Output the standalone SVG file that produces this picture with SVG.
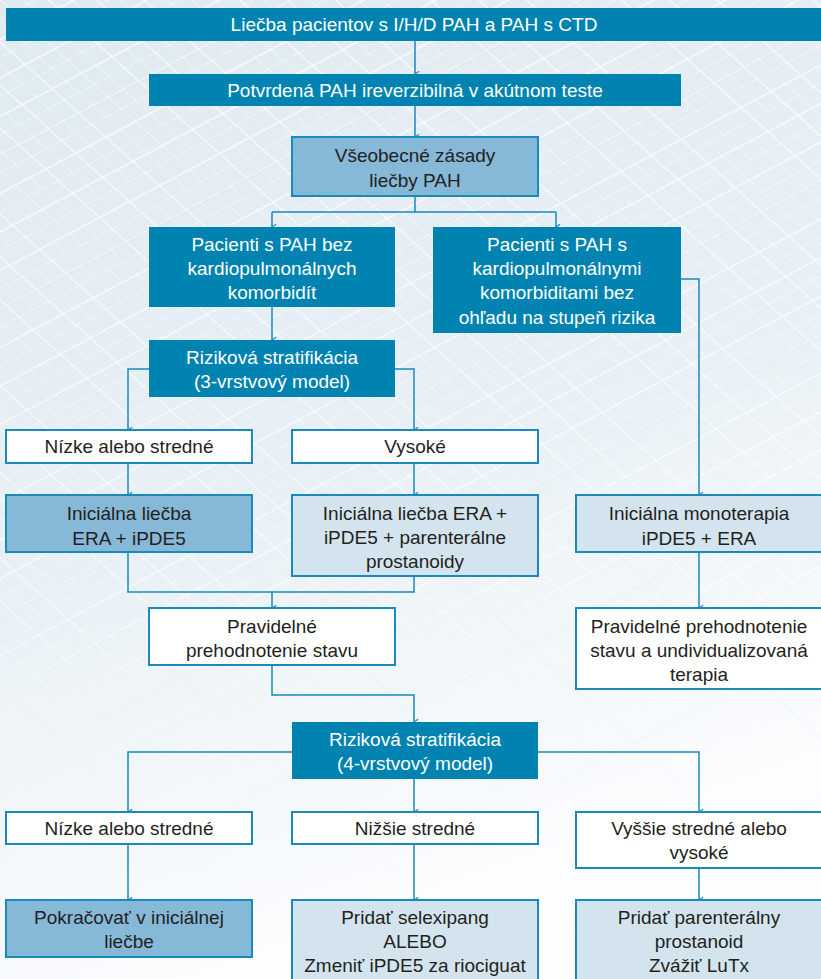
<svg xmlns="http://www.w3.org/2000/svg" width="821" height="979" viewBox="0 0 821 979">
  <defs>
    <linearGradient id="bgGrad" x1="0" y1="0" x2="0.3" y2="1">
      <stop offset="0" stop-color="#dfeaf1"/>
      <stop offset="0.55" stop-color="#e8f0f5"/>
      <stop offset="0.8" stop-color="#f3f7fa"/>
      <stop offset="1" stop-color="#fbfdfe"/>
    </linearGradient>
    <pattern id="grid" width="34" height="34" patternUnits="userSpaceOnUse" patternTransform="rotate(-28) skewX(20)">
      <path d="M0 0H34M0 0V34" fill="none" stroke="#ffffff" stroke-width="3" opacity="0.75"/>
      <path d="M0 17H34M17 0V34" fill="none" stroke="#ffffff" stroke-width="1" opacity="0.5"/>
    </pattern>
    <pattern id="gridMajor" width="136" height="136" patternUnits="userSpaceOnUse" patternTransform="rotate(-28) skewX(20)">
      <path d="M0 0H136M0 0V136" fill="none" stroke="#c6d6e2" stroke-width="4" opacity="0.6"/>
    </pattern>
    <linearGradient id="fadeMask" x1="0" y1="0" x2="0" y2="1">
      <stop offset="0" stop-color="#fff" stop-opacity="1"/>
      <stop offset="0.6" stop-color="#fff" stop-opacity="0.8"/>
      <stop offset="0.85" stop-color="#fff" stop-opacity="0.1"/>
      <stop offset="1" stop-color="#fff" stop-opacity="0"/>
    </linearGradient>
    <mask id="fade">
      <rect width="821" height="979" fill="url(#fadeMask)"/>
    </mask>
    <marker id="arr" viewBox="0 0 10 8" refX="5" refY="7" markerWidth="7" markerHeight="5.6" markerUnits="userSpaceOnUse" orient="auto-start-reverse">
      <path d="M1 1 L5 7 L9 1" fill="none" stroke="#1a89bb" stroke-width="1.6"/>
    </marker>
    <style>
      .dark { fill: #0083b1; }
      .mid { fill: #86b8d8; stroke: #1a89bb; stroke-width: 2; }
      .light { fill: #d4e4ef; stroke: #1a89bb; stroke-width: 2; }
      .white { fill: #ffffff; stroke: #1a89bb; stroke-width: 2; }
      text { font-family: "Liberation Sans", Arial, sans-serif; font-size: 19px; text-anchor: middle; }
      .tw { fill: #ffffff; }
      .tk { fill: #231f20; }
      .conn { fill: none; stroke: #1a89bb; stroke-width: 1.5; }
    </style>
  </defs>

  <!-- background paper -->
  <rect width="821" height="979" fill="url(#bgGrad)"/>
  <g mask="url(#fade)">
    <rect width="821" height="979" fill="url(#gridMajor)"/>
    <rect width="821" height="979" fill="url(#grid)"/>
  </g>

  <!-- connectors -->
  <g id="connectors" class="conn">
    <path d="M415 41V74" marker-end="url(#arr)"/>
    <path d="M415 106V137" marker-end="url(#arr)"/>
    <path d="M415 196V212"/>
    <path d="M272 212H556"/>
    <path d="M272 212V227" marker-end="url(#arr)"/>
    <path d="M556 212V227" marker-end="url(#arr)"/>
    <path d="M272 307V340" marker-end="url(#arr)"/>
    <path d="M681 279H699V495" marker-end="url(#arr)"/>
    <path d="M149 369H128V430" marker-end="url(#arr)"/>
    <path d="M395 369H414V430" marker-end="url(#arr)"/>
    <path d="M128 463V495" marker-end="url(#arr)"/>
    <path d="M414 463V495" marker-end="url(#arr)"/>
    <path d="M128 552V592H414V576"/>
    <path d="M272 592V608" marker-end="url(#arr)"/>
    <path d="M699 552V608" marker-end="url(#arr)"/>
    <path d="M272 665V695H414V722" marker-end="url(#arr)"/>
    <path d="M292 752H128V812" marker-end="url(#arr)"/>
    <path d="M538 752H699V812" marker-end="url(#arr)"/>
    <path d="M414 779V812" marker-end="url(#arr)"/>
    <path d="M128 844V900" marker-end="url(#arr)"/>
    <path d="M414 844V900" marker-end="url(#arr)"/>
    <path d="M699 868V900" marker-end="url(#arr)"/>
  </g>

  <g id="n-liecba">
    <rect class="dark" x="6" y="8" width="815" height="33"/>
    <text class="tw" x="414" y="31">Liečba pacientov s I/H/D PAH a PAH s CTD</text>
  </g>
  <g id="n-potvrdena">
    <rect class="dark" x="149" y="74" width="532" height="32"/>
    <text class="tw" x="415" y="97">Potvrdená PAH ireverzibilná v akútnom teste</text>
  </g>
  <g id="n-zasady">
    <rect class="mid" x="292" y="137" width="246" height="59"/>
    <text class="tk" x="415" y="162">Všeobecné zásady</text>
    <text class="tk" x="415" y="187">liečby PAH</text>
  </g>
  <g id="n-bez">
    <rect class="dark" x="149" y="227" width="246" height="80"/>
    <text class="tw" x="272" y="251">Pacienti s PAH bez</text>
    <text class="tw" x="272" y="275">kardiopulmonálnych</text>
    <text class="tw" x="272" y="299">komorbidít</text>
  </g>
  <g id="n-s">
    <rect class="dark" x="433" y="227" width="248" height="106"/>
    <text class="tw" x="557" y="251">Pacienti s PAH s</text>
    <text class="tw" x="557" y="275">kardiopulmonálnymi</text>
    <text class="tw" x="557" y="299">komorbiditami bez</text>
    <text class="tw" x="557" y="324">ohľadu na stupeň rizika</text>
  </g>
  <g id="n-riziko3">
    <rect class="dark" x="149" y="340" width="246" height="57"/>
    <text class="tw" x="272" y="364">Riziková stratifikácia</text>
    <text class="tw" x="272" y="388">(3-vrstvový model)</text>
  </g>
  <g id="n-nizke3">
    <rect class="white" x="6" y="430" width="246" height="33"/>
    <text class="tk" x="129" y="453">Nízke alebo stredné</text>
  </g>
  <g id="n-vysoke3">
    <rect class="white" x="292" y="430" width="246" height="33"/>
    <text class="tk" x="415" y="453">Vysoké</text>
  </g>
  <g id="n-init-a">
    <rect class="mid" x="6" y="495" width="246" height="57"/>
    <text class="tk" x="129" y="520">Iniciálna liečba</text>
    <text class="tk" x="129" y="545">ERA + iPDE5</text>
  </g>
  <g id="n-init-b">
    <rect class="light" x="292" y="495" width="246" height="81"/>
    <text class="tk" x="415" y="520">Iniciálna liečba ERA +</text>
    <text class="tk" x="415" y="544">iPDE5 + parenterálne</text>
    <text class="tk" x="415" y="568">prostanoidy</text>
  </g>
  <g id="n-mono">
    <rect class="light" x="576" y="495" width="246" height="57"/>
    <text class="tk" x="699" y="520">Iniciálna monoterapia</text>
    <text class="tk" x="699" y="545">iPDE5 + ERA</text>
  </g>
  <g id="n-prehod">
    <rect class="white" x="149" y="608" width="246" height="57"/>
    <text class="tk" x="272" y="633">Pravidelné</text>
    <text class="tk" x="272" y="657">prehodnotenie stavu</text>
  </g>
  <g id="n-prehod-ind">
    <rect class="white" x="576" y="608" width="246" height="81"/>
    <text class="tk" x="699" y="633">Pravidelné prehodnotenie</text>
    <text class="tk" x="699" y="657">stavu a undividualizovaná</text>
    <text class="tk" x="699" y="681">terapia</text>
  </g>
  <g id="n-riziko4">
    <rect class="dark" x="292" y="722" width="246" height="57"/>
    <text class="tw" x="415" y="746">Riziková stratifikácia</text>
    <text class="tw" x="415" y="770">(4-vrstvový model)</text>
  </g>
  <g id="n-nizke4">
    <rect class="white" x="6" y="812" width="246" height="32"/>
    <text class="tk" x="129" y="835">Nízke alebo stredné</text>
  </g>
  <g id="n-nizsie">
    <rect class="white" x="292" y="812" width="246" height="32"/>
    <text class="tk" x="415" y="835">Nižšie stredné</text>
  </g>
  <g id="n-vyssie">
    <rect class="white" x="576" y="812" width="246" height="56"/>
    <text class="tk" x="699" y="835">Vyššie stredné alebo</text>
    <text class="tk" x="699" y="859">vysoké</text>
  </g>
  <g id="n-pokracovat">
    <rect class="mid" x="6" y="900" width="246" height="57"/>
    <text class="tk" x="129" y="924">Pokračovať v iniciálnej</text>
    <text class="tk" x="129" y="948">liečbe</text>
  </g>
  <g id="n-selexipag">
    <rect class="light" x="292" y="900" width="246" height="90"/>
    <text class="tk" x="415" y="924">Pridať selexipang</text>
    <text class="tk" x="415" y="948">ALEBO</text>
    <text class="tk" x="415" y="972">Zmeniť iPDE5 za riociguat</text>
  </g>
  <g id="n-prostanoid">
    <rect class="light" x="576" y="900" width="246" height="90"/>
    <text class="tk" x="699" y="924">Pridať parenterálny</text>
    <text class="tk" x="699" y="948">prostanoid</text>
    <text class="tk" x="699" y="972">Zvážiť LuTx</text>
  </g>
</svg>
